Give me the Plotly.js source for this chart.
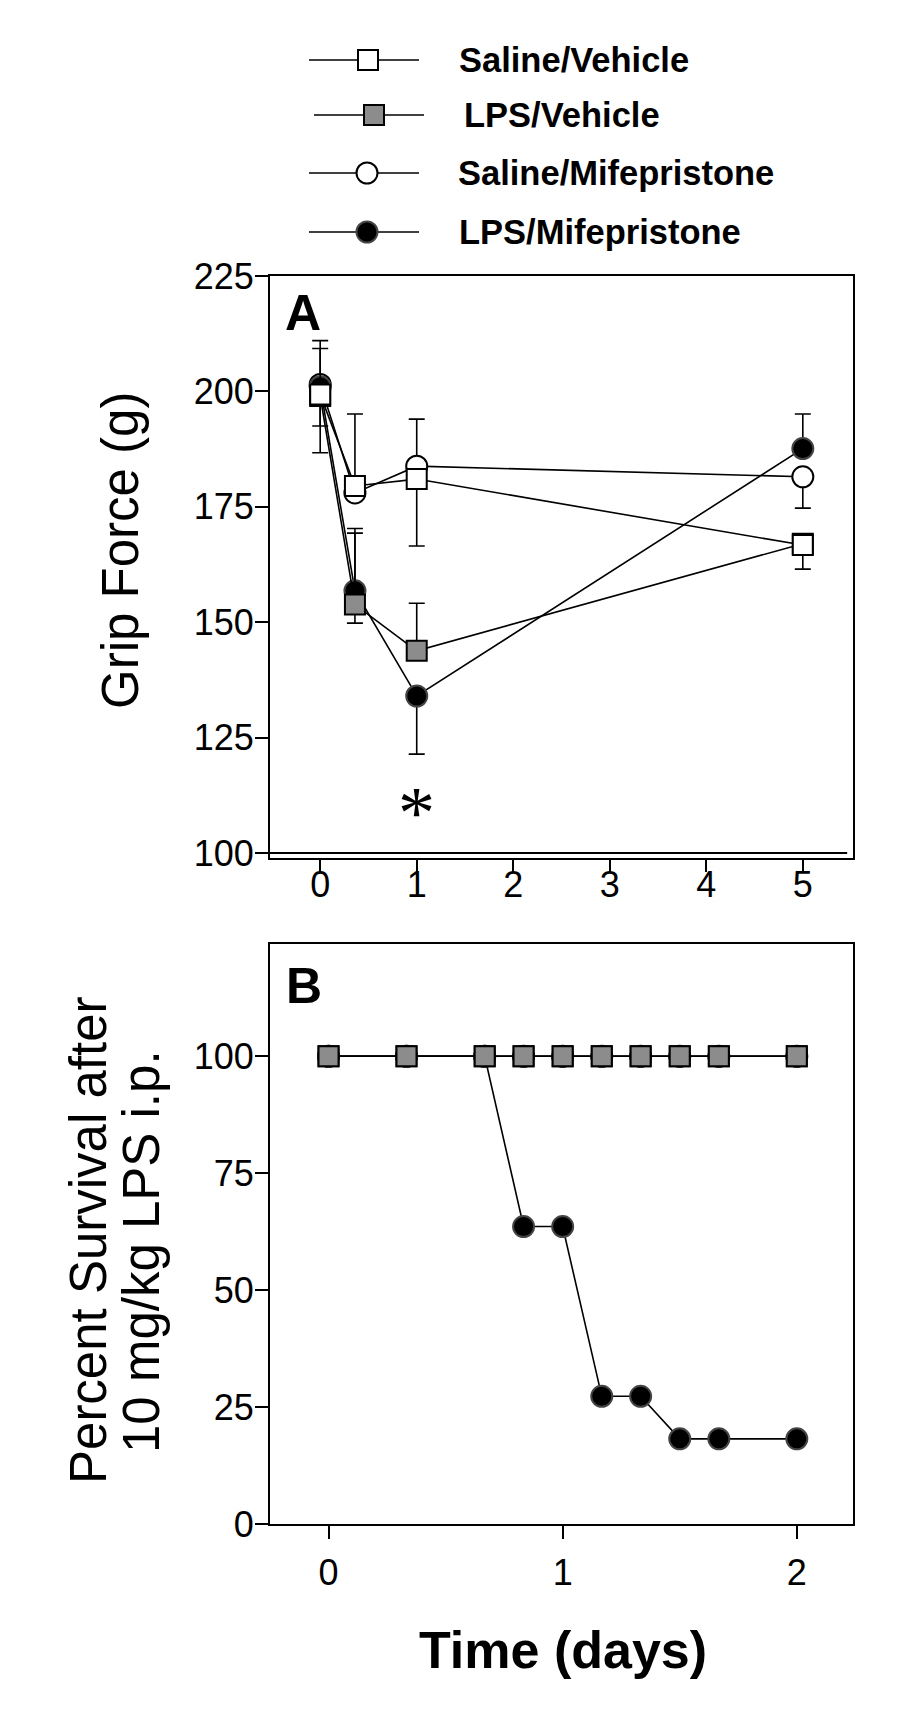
<!DOCTYPE html>
<html><head><meta charset="utf-8">
<script src="https://cdn.plot.ly/plotly-3.0.1.min.js"></script>
<style>body{margin:0;background:#fff}#chart{width:917px;height:1713px}</style>
</head><body><div id="chart"></div>
<script>
// ---------- Panel A: grip force (g) ----------
const gripDays = [0, 0.36, 1, 5];
const gripTicks = [0, 1, 2, 3, 4, 5];
const gripYTicks = [100, 125, 150, 175, 200, 225];

const salineVehicleGrip = [199.3, 179.5, 181.0, 166.7];
const salineVehicleUp   = [10.0, 15.6, 0, 0];
const salineVehicleDown = [0, 0, 14.5, 5.2];

const lpsVehicleGrip = [199.0, 153.8, 143.8, 167.0];
const lpsVehicleUp   = [0, 15.5, 10.3, 0];
const lpsVehicleDown = [12.3, 4.0, 0, 0];

const salineMifeGrip = [201.5, 178.0, 183.8, 181.5];
const salineMifeUp   = [9.5, 0, 10.2, 0];
const salineMifeDown = [0, 0, 0, 6.8];

const lpsMifeGrip = [201.0, 156.8, 134.0, 187.6];
const lpsMifeUp   = [0, 13.5, 0, 7.5];
const lpsMifeDown = [8.5, 0, 12.6, 0];

const sigLabel = '*';
const sigDay = 1;
const sigLevel = 110.8;

// ---------- Panel B: percent survival ----------
const survDays = [0, 0.333, 0.667, 0.833, 1, 1.167, 1.333, 1.5, 1.667, 2];
const survTicks = [0, 1, 2];
const survYTicks = [0, 25, 50, 75, 100];
const salineVehicleSurv = [100, 100, 100, 100, 100, 100, 100, 100, 100, 100];
const lpsVehicleSurv    = [100, 100, 100, 100, 100, 100, 100, 100, 100, 100];
const salineMifeSurv    = [100, 100, 100, 100, 100, 100, 100, 100, 100, 100];
const lpsMifeSurv       = [100, 100, 100, 63.6, 63.6, 27.3, 27.3, 18.2, 18.2, 18.2];

const groupNames = ['Saline/Vehicle', 'LPS/Vehicle', 'Saline/Mifepristone', 'LPS/Mifepristone'];

// ---------- styles ----------
const W = 917, H = 1713;
const FONT = 'Liberation Sans, Arial, Helvetica, sans-serif';
const GRAY = '#8c8c8c';
const styles = {
  'Saline/Vehicle':      {symbol: 'square', color: '#ffffff', line: '#000000', size: 20},
  'LPS/Vehicle':         {symbol: 'square', color: GRAY,      line: '#000000', size: 20},
  'Saline/Mifepristone': {symbol: 'circle', color: '#ffffff', line: '#000000', size: 21},
  'LPS/Mifepristone':    {symbol: 'circle', color: '#000000', line: '#444444', size: 21}
};
const px = x => x / W;
const py = y => 1 - y / H;

function gripTrace(name, y, up, down) {
  const s = styles[name];
  return {
    type: 'scatter', mode: 'lines+markers', name: name, showlegend: false,
    x: gripDays, y: y, xaxis: 'x', yaxis: 'y',
    line: {color: '#000', width: 1.6},
    marker: {symbol: s.symbol, size: s.size, color: s.color, line: {color: s.line, width: 2}},
    error_y: {type: 'data', symmetric: false, array: up, arrayminus: down,
              color: '#000', thickness: 1.6, width: 8}
  };
}
function survTrace(name, y) {
  const s = styles[name];
  return {
    type: 'scatter', mode: 'lines+markers', name: name, showlegend: false,
    x: survDays, y: y, xaxis: 'x2', yaxis: 'y2',
    line: {color: '#000', width: 1.6},
    marker: {symbol: s.symbol, size: s.size, color: s.color, line: {color: s.line, width: 2}}
  };
}

const data = [
  gripTrace('Saline/Mifepristone', salineMifeGrip, salineMifeUp, salineMifeDown),
  gripTrace('LPS/Mifepristone', lpsMifeGrip, lpsMifeUp, lpsMifeDown),
  gripTrace('LPS/Vehicle', lpsVehicleGrip, lpsVehicleUp, lpsVehicleDown),
  gripTrace('Saline/Vehicle', salineVehicleGrip, salineVehicleUp, salineVehicleDown),
  survTrace('Saline/Mifepristone', salineMifeSurv),
  survTrace('LPS/Mifepristone', lpsMifeSurv),
  survTrace('Saline/Vehicle', salineVehicleSurv),
  survTrace('LPS/Vehicle', lpsVehicleSurv)
];

const axisCommon = {
  showline: true, linewidth: 2, linecolor: '#000', mirror: true,
  ticks: 'outside', tickwidth: 2, tickcolor: '#000',
  showgrid: false, zeroline: false,
  tickfont: {family: FONT, size: 36, color: '#000'}
};

// ---------- legend (drawn as decoration) ----------
const legendRows = [
  {name: 'Saline/Vehicle',      y: 60,  x0: 309, x1: 419, cx: 368, tx: 457},
  {name: 'LPS/Vehicle',         y: 115, x0: 314, x1: 424, cx: 374, tx: 462},
  {name: 'Saline/Mifepristone', y: 173, x0: 309, x1: 419, cx: 367, tx: 456},
  {name: 'LPS/Mifepristone',    y: 232, x0: 309, x1: 419, cx: 367, tx: 457}
];
const shapes = [
  // horizontal line at 100 g in panel A
  {type: 'line', xref: 'x domain', yref: 'y', x0: 0, x1: 0.99, y0: 100, y1: 100,
   line: {color: '#000', width: 2}}
];
const annotations = [];
legendRows.forEach(r => {
  const s = styles[r.name];
  shapes.push({type: 'line', xref: 'paper', yref: 'paper', x0: px(r.x0), x1: px(r.x1),
               y0: py(r.y), y1: py(r.y), line: {color: '#000', width: 1.6}});
  const h = s.size / 2;
  shapes.push({type: s.symbol === 'square' ? 'rect' : 'circle', xref: 'paper', yref: 'paper',
               x0: px(r.cx - h), x1: px(r.cx + h), y0: py(r.y + h), y1: py(r.y - h),
               fillcolor: s.color, line: {color: s.line, width: 2}});
  annotations.push({xref: 'paper', yref: 'paper', x: px(r.tx), y: py(r.y),
                    xanchor: 'left', yanchor: 'middle', showarrow: false, text: r.name,
                    font: {family: FONT, size: 34.5, color: '#000', weight: 'bold'}});
});

annotations.push(
  {xref: 'paper', yref: 'paper', x: px(283), y: py(313), xanchor: 'left', yanchor: 'middle',
   showarrow: false, text: 'A', font: {family: FONT, size: 50, color: '#000', weight: 'bold'}},
  {xref: 'paper', yref: 'paper', x: px(284), y: py(986), xanchor: 'left', yanchor: 'middle',
   showarrow: false, text: 'B', font: {family: FONT, size: 50, color: '#000', weight: 'bold'}},
  {xref: 'x', yref: 'y', x: sigDay, y: sigLevel, yshift: -10, showarrow: false, text: sigLabel,
   font: {family: 'Liberation Serif, Times New Roman, serif', size: 74, color: '#000'}},
  {xref: 'paper', yref: 'paper', x: px(120), y: py(551), xanchor: 'center', yanchor: 'middle',
   textangle: -90, showarrow: false, text: 'Grip Force (g)',
   font: {family: FONT, size: 51, color: '#000'}},
  {xref: 'paper', yref: 'paper', x: px(88), y: py(1240), xanchor: 'center', yanchor: 'middle',
   textangle: -90, showarrow: false, text: 'Percent Survival after',
   font: {family: FONT, size: 51, color: '#000'}},
  {xref: 'paper', yref: 'paper', x: px(141), y: py(1252), xanchor: 'center', yanchor: 'middle',
   textangle: -90, showarrow: false, text: '10 mg/kg LPS i.p.',
   font: {family: FONT, size: 51, color: '#000'}},
  {xref: 'paper', yref: 'paper', x: px(563), y: py(1650), xanchor: 'center', yanchor: 'middle',
   showarrow: false, text: 'Time (days)',
   font: {family: FONT, size: 52, color: '#000', weight: 'bold'}}
);

const layout = {
  width: W, height: H,
  margin: {l: 0, r: 0, t: 0, b: 0},
  paper_bgcolor: '#fff', plot_bgcolor: '#fff',
  showlegend: false,
  font: {family: FONT, color: '#000'},
  xaxis: Object.assign({}, axisCommon, {domain: [px(270), px(853)], anchor: 'y',
    range: [-0.52, 5.52], tickvals: gripTicks, ticklen: 12, ticklabelstandoff: -18}),
  yaxis: Object.assign({}, axisCommon, {domain: [py(858), py(276)], anchor: 'x',
    range: [98.9, 225], tickvals: gripYTicks, ticklen: 13, ticklabelstandoff: -6}),
  xaxis2: Object.assign({}, axisCommon, {domain: [px(270), px(853)], anchor: 'y2',
    range: [-0.25, 2.24], tickvals: survTicks, ticklen: 13, ticklabelstandoff: 3}),
  yaxis2: Object.assign({}, axisCommon, {domain: [py(1524), py(944)], anchor: 'x2',
    range: [0, 124], tickvals: survYTicks, ticklen: 13, ticklabelstandoff: -6}),
  shapes: shapes,
  annotations: annotations
};

Plotly.newPlot('chart', data, layout, {staticPlot: true, displayModeBar: false});
</script>
</body></html>
